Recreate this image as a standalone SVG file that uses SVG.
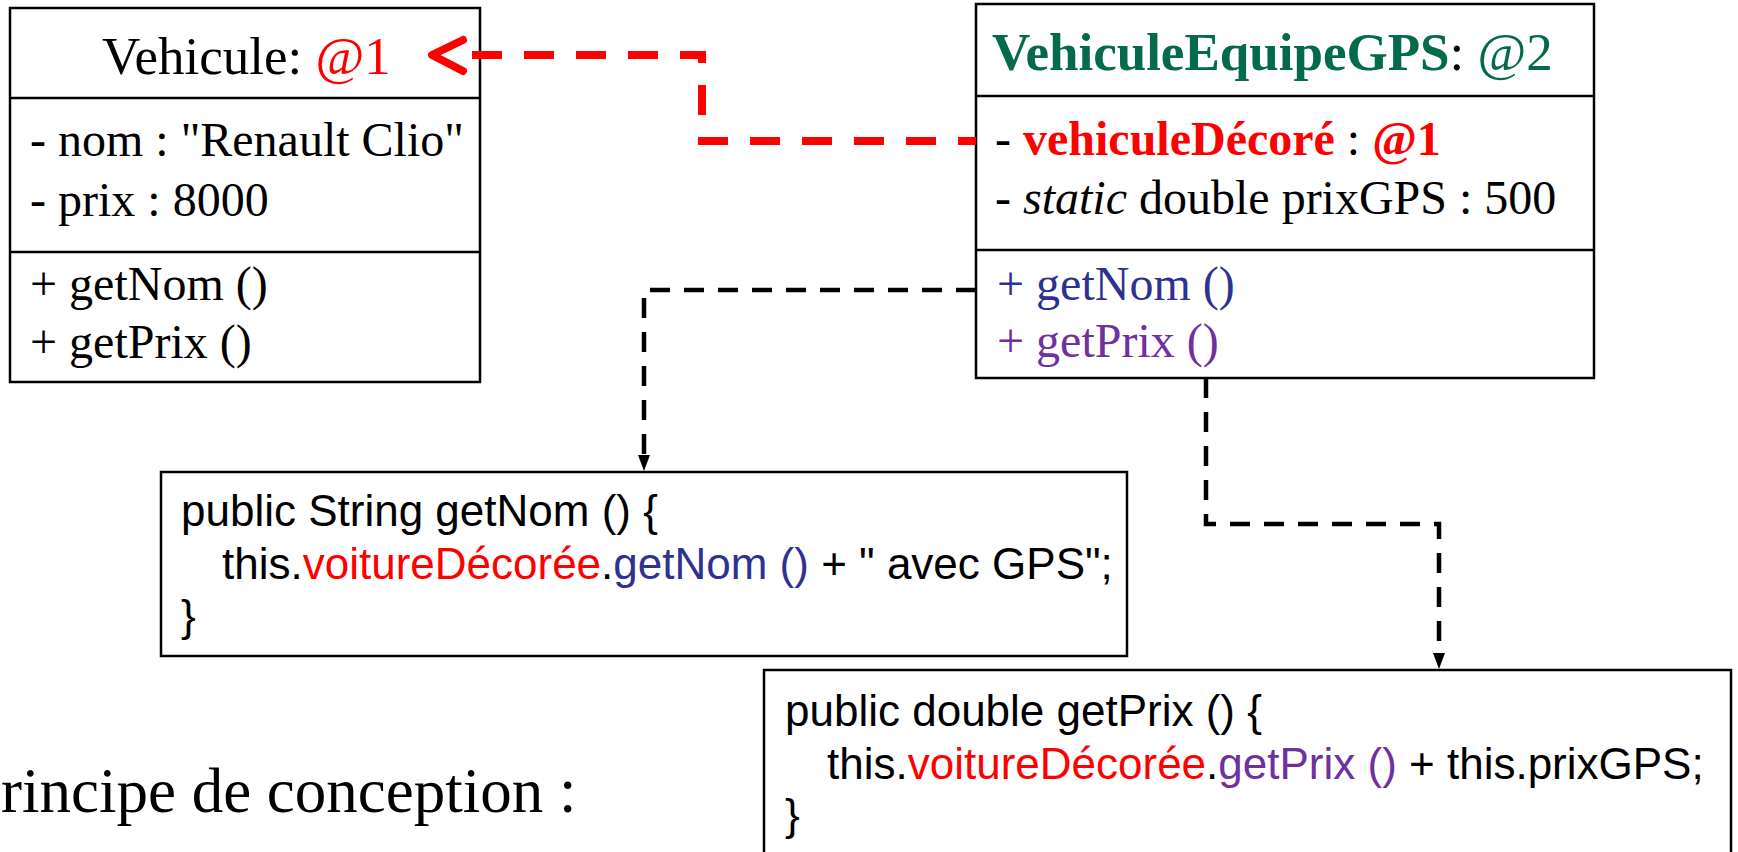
<svg xmlns="http://www.w3.org/2000/svg" width="1738" height="852" viewBox="0 0 1738 852">
<defs>
<style>
.box{fill:#fff;stroke:#000;stroke-width:2.5}
.sep{stroke:#000;stroke-width:2.5}
.uml{font-family:"Liberation Serif","Times New Roman",serif;font-size:48px;fill:#000}
.code{font-family:"Liberation Sans",Arial,sans-serif;font-size:44px;fill:#000}
.red{fill:#FF0000}
.green{fill:#036A4B}
.blue{fill:#2E3192}
.purple{fill:#7030A0}
.b{font-weight:bold}
.i{font-style:italic}
.dashR{fill:none;stroke:#FF0000;stroke-width:8;stroke-dasharray:30 22}
.dashK{fill:none;stroke:#000;stroke-width:4.5;stroke-dasharray:20 14}
</style>
</defs>

<g id="vehicule">
<rect class="box" x="10" y="8" width="470" height="374"/>
<line class="sep" x1="10" y1="98" x2="480" y2="98"/>
<line class="sep" x1="10" y1="252" x2="480" y2="252"/>
<text class="uml" x="102" y="74" style="font-size:53px">Vehicule: <tspan class="red">@1</tspan></text>
<text class="uml" x="30" y="156">- nom : "Renault Clio"</text>
<text class="uml" x="30" y="216">- prix : 8000</text>
<text class="uml" x="30" y="300">+ getNom ()</text>
<text class="uml" x="30" y="358">+ getPrix ()</text>
</g>

<g id="vehiculeGPS">
<rect class="box" x="976" y="4" width="618" height="374"/>
<line class="sep" x1="976" y1="96" x2="1594" y2="96"/>
<line class="sep" x1="976" y1="250" x2="1594" y2="250"/>
<text class="uml" x="992" y="70" style="font-size:53px"><tspan class="green b">VehiculeEquipeGPS</tspan>: <tspan class="green">@2</tspan></text>
<text class="uml" x="995" y="155">- <tspan class="red b">vehiculeDécoré</tspan> : <tspan class="red b">@1</tspan></text>
<text class="uml" x="995" y="214">- <tspan class="i">static</tspan> double prixGPS : 500</text>
<text class="uml blue" x="997" y="300">+ getNom ()</text>
<text class="uml purple" x="997" y="357">+ getPrix ()</text>
</g>

<g id="codeGetNom">
<rect class="box" x="161" y="472" width="966" height="184"/>
<text class="code" x="181" y="526">public String getNom () {</text>
<text class="code" x="222" y="579">this.<tspan class="red">voitureDécorée</tspan>.<tspan class="blue">getNom ()</tspan> + " avec GPS";</text>
<text class="code" x="181" y="631">}</text>
</g>

<g id="codeGetPrix">
<rect class="box" x="764" y="670" width="967" height="200"/>
<text class="code" x="785" y="726">public double getPrix () {</text>
<text class="code" x="827" y="779">this.<tspan class="red">voitureDécorée</tspan>.<tspan class="purple">getPrix ()</tspan> + this.prixGPS;</text>
<text class="code" x="785" y="830">}</text>
</g>

<g id="caption">
<text class="uml" x="1" y="812" style="font-size:63px">rincipe de conception :</text>
</g>

<g id="connectors">
<path class="dashR" d="M472,55 H702 V141 H976"/>
<path d="M463,40 L432,55 L463,71" fill="none" stroke="#FF0000" stroke-width="8" stroke-linecap="round" stroke-linejoin="round"/>
<path class="dashK" d="M976,290 H644 V456"/>
<path d="M638,455 L650,455 L644,471 Z" fill="#000"/>
<path class="dashK" d="M1206,378 V524 H1439 V654"/>
<path d="M1433,653 L1445,653 L1439,669 Z" fill="#000"/>
</g>
</svg>
